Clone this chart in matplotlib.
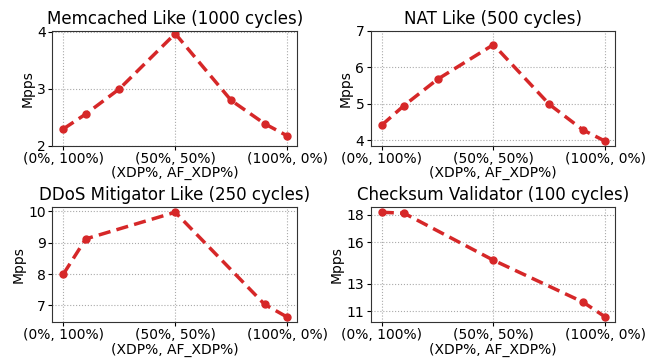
import numpy as np
import matplotlib
matplotlib.use('Agg')
import matplotlib.pyplot as plt

# share of traffic handled by XDP (rest goes to AF_XDP)
xtick_pos = [0, 50, 100]
xtick_labels = ['(0%, 100%)', '(50%, 50%)', '(100%, 0%)']

memcached_x = [0, 10, 25, 50, 75, 90, 100]
memcached_y = [2.30, 2.56, 3.00, 3.97, 2.80, 2.39, 2.18]

nat_x = [0, 10, 25, 50, 75, 90, 100]
nat_y = [4.41, 4.95, 5.67, 6.62, 4.98, 4.28, 3.97]

ddos_x = [0, 10, 50, 90, 100]
ddos_y = [8.00, 9.12, 9.97, 7.03, 6.63]

checksum_x = [0, 10, 50, 90, 100]
checksum_y = [18.17, 18.10, 14.70, 11.68, 10.60]

panels = [
    ('Memcached Like (1000 cycles)', memcached_x, memcached_y, [2, 3, 4], (2, 4.02)),
    ('NAT Like (500 cycles)', nat_x, nat_y, [4, 5, 6, 7], (3.84, 7)),
    ('DDoS Mitigator Like (250 cycles)', ddos_x, ddos_y, [7, 8, 9, 10], None),
    ('Checksum Validator (100 cycles)', checksum_x, checksum_y, [11, 13, 16, 18], None),
]

fig, axes = plt.subplots(2, 2, figsize=(6.45, 3.58), dpi=100)
fig.subplots_adjust(left=0.081, right=0.954, top=0.914, bottom=0.10,
                    wspace=0.30, hspace=0.53)

for ax, (title, xs, ys, yticks, ylim) in zip(axes.flat, panels):
    ax.plot(xs, ys, color='#d62728', linestyle='--', linewidth=2.5,
            marker='o', markersize=5, dashes=(3.5, 1.8))
    ax.set_title(title, fontsize=12, pad=5)
    ax.set_xticks(xtick_pos)
    ax.set_xticklabels(xtick_labels, fontsize=10)
    ax.set_yticks(yticks)
    ax.tick_params(axis='both', labelsize=10, length=3, pad=1.5)
    ax.set_xlim(-5, 104.5)
    if ylim is not None:
        ax.set_ylim(*ylim)
    ax.set_ylabel('Mpps', fontsize=10, labelpad=2)
    ax.set_xlabel('(XDP%, AF_XDP%)', fontsize=10, labelpad=0)
    ax.grid(True, linestyle=':', color='#aaaaaa', linewidth=0.8)
    for sp in ax.spines.values():
        sp.set_color('#333333')

fig.savefig('out.png')
